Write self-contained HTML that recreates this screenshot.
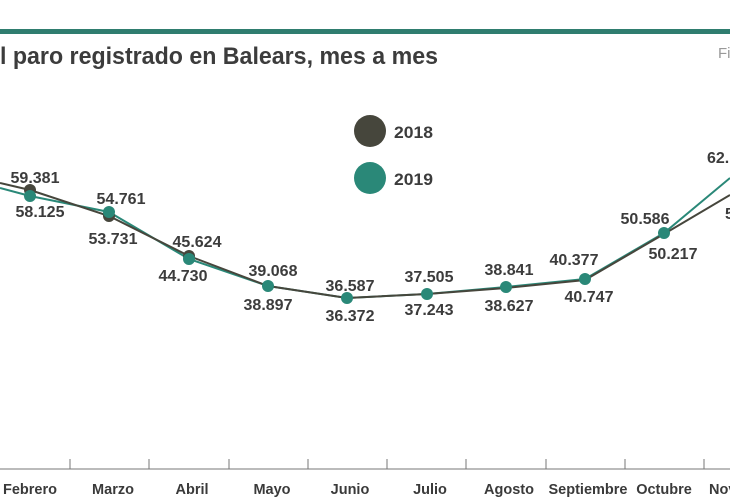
<!DOCTYPE html>
<html><head><meta charset="utf-8"><style>
html,body{margin:0;padding:0;background:#fff;}
svg{display:block;}
text{font-family:"Liberation Sans",sans-serif;font-weight:bold;fill:#3c3c3c;}
.v{font-size:16px;}
.m{font-size:14.5px;fill:#3a3a3a;}
</style></head><body>
<svg width="730" height="500" viewBox="0 0 730 500" xmlns="http://www.w3.org/2000/svg">
<rect x="0" y="29" width="730" height="5" fill="#2f7d6f"/>
<text x="0" y="64" font-size="24" textLength="438" lengthAdjust="spacingAndGlyphs">l paro registrado en Balears, mes a mes</text>
<text x="718" y="58" font-size="15" style="font-weight:normal;fill:#999">Fi</text>
<circle cx="370" cy="131" r="16" fill="#46463c"/>
<text x="394" y="138" font-size="17" textLength="39" lengthAdjust="spacingAndGlyphs">2018</text>
<circle cx="370" cy="178" r="16" fill="#2a8878"/>
<text x="394" y="185" font-size="17" textLength="39" lengthAdjust="spacingAndGlyphs">2019</text>
<line x1="0" y1="469" x2="730" y2="469" stroke="#777" stroke-width="1"/>
<g stroke="#777" stroke-width="1">
<line x1="70" y1="459" x2="70" y2="469"/><line x1="149" y1="459" x2="149" y2="469"/><line x1="229" y1="459" x2="229" y2="469"/><line x1="308" y1="459" x2="308" y2="469"/><line x1="387" y1="459" x2="387" y2="469"/><line x1="466" y1="459" x2="466" y2="469"/><line x1="546" y1="459" x2="546" y2="469"/><line x1="625" y1="459" x2="625" y2="469"/><line x1="704" y1="459" x2="704" y2="469"/>
</g>
<g class="m" text-anchor="middle">
<text class="m" x="30" y="494">Febrero</text><text class="m" x="113" y="494">Marzo</text><text class="m" x="192" y="494">Abril</text><text class="m" x="272" y="494">Mayo</text><text class="m" x="350" y="494">Junio</text><text class="m" x="430" y="494">Julio</text><text class="m" x="509" y="494">Agosto</text><text class="m" x="588" y="494">Septiembre</text><text class="m" x="664" y="494">Octubre</text><text class="m" x="709" y="494" text-anchor="start">Nov</text>
</g>
<polyline fill="none" stroke="#2a8878" stroke-width="2" points="0,188 30,196 109,212 189,259 268,286 347,298 427,294 506,287 585,279 664,233 730,178"/>
<polyline fill="none" stroke="#46463c" stroke-width="2" points="0,183 30,190 109,216 189,256 268,286 347,298 427,294 506,288 585,280 664,234 730,195"/>
<g fill="#46463c"><circle cx="30" cy="190" r="6"/><circle cx="109" cy="216" r="6"/><circle cx="189" cy="256" r="6"/></g>
<g fill="#2a8878"><circle cx="30" cy="196" r="6"/><circle cx="109" cy="212" r="6"/><circle cx="189" cy="259" r="6"/><circle cx="268" cy="286" r="6"/><circle cx="347" cy="298" r="6"/><circle cx="427" cy="294" r="6"/><circle cx="506" cy="287" r="6"/><circle cx="585" cy="279" r="6"/><circle cx="664" cy="233" r="6"/></g>
<g text-anchor="middle">
<text class="v" x="35" y="183">59.381</text><text class="v" x="40" y="217">58.125</text>
<text class="v" x="121" y="204">54.761</text><text class="v" x="113" y="244">53.731</text>
<text class="v" x="197" y="247">45.624</text><text class="v" x="183" y="281">44.730</text>
<text class="v" x="273" y="276">39.068</text><text class="v" x="268" y="310">38.897</text>
<text class="v" x="350" y="291">36.587</text><text class="v" x="350" y="321">36.372</text>
<text class="v" x="429" y="282">37.505</text><text class="v" x="429" y="315">37.243</text>
<text class="v" x="509" y="275">38.841</text><text class="v" x="509" y="311">38.627</text>
<text class="v" x="574" y="265">40.377</text><text class="v" x="589" y="302">40.747</text>
<text class="v" x="645" y="224">50.586</text><text class="v" x="673" y="259">50.217</text>
<text class="v" x="707" y="163" text-anchor="start">62.</text><text class="v" x="725" y="219" text-anchor="start">5</text>
</g>
</svg>
</body></html>
